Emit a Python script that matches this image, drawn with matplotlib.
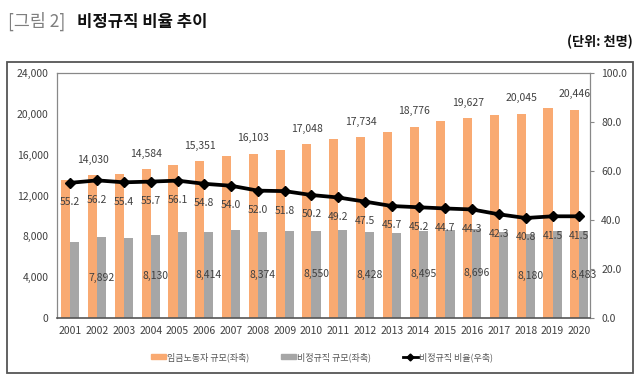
import numpy as np
import matplotlib.pyplot as plt
from matplotlib.lines import Line2D
from matplotlib.patches import Patch, Rectangle

plt.rcParams['font.family'] = ['Noto Sans CJK KR', 'DejaVu Sans']

years = [str(y) for y in range(2001, 2021)]
wage_workers = [13540, 14030, 14149, 14584, 14968, 15351, 15882, 16103, 16479, 17048,
                17510, 17734, 18240, 18776, 19312, 19627, 19883, 20045, 20559, 20446]
nonregular = [7474, 7892, 7838, 8130, 8397, 8414, 8576, 8374, 8536, 8550,
              8615, 8428, 8336, 8495, 8632, 8696, 8411, 8180, 8532, 8483]
ratio = [55.2, 56.2, 55.4, 55.7, 56.1, 54.8, 54.0, 52.0, 51.8, 50.2,
         49.2, 47.5, 45.7, 45.2, 44.7, 44.3, 42.3, 40.8, 41.5, 41.5]

orange = '#F9AA72'
gray = '#A6A6A6'
txt = '#404040'

fig = plt.figure(figsize=(6.4, 3.83), dpi=100)
ax = fig.add_axes([0.089, 0.1705, 0.833, 0.638])
x = np.arange(len(years))
w = 0.34

ax.bar(x - w / 2, wage_workers, w, color=orange)
ax.bar(x + w / 2, nonregular, w, color=gray)

# labels on every other year (even years)
for i in range(1, len(years), 2):
    ax.annotate(f'{wage_workers[i]:,}', (x[i] - w / 2, wage_workers[i]), xytext=(0, 11),
                textcoords='offset points', ha='center', va='center', fontsize=7.5, color=txt)
    ax.text(x[i] + w / 2, nonregular[i] / 2, f'{nonregular[i]:,}', ha='center', va='center',
            fontsize=7.5, color=txt)

ax.set_ylim(0, 24000)
ax.set_yticks(range(0, 24001, 4000))
ax.set_yticklabels([f'{v:,}' for v in range(0, 24001, 4000)])
ax.set_xlim(-0.5, 19.4)
ax.set_xticks(x)
ax.set_xticklabels(years)
ax.tick_params(axis='both', length=0, labelsize=7.5, colors=txt, pad=6)
for s in ['top', 'left', 'right']:
    ax.spines[s].set_color('#888888')
    ax.spines[s].set_linewidth(0.9)
ax.spines['bottom'].set_color('#555555')
ax.spines['bottom'].set_linewidth(1.2)

ax2 = ax.twinx()
ax2.plot(x, ratio, color='black', lw=2.7, marker='D', ms=5)
for i in range(len(years)):
    ax2.annotate(f'{ratio[i]:.1f}', (x[i], ratio[i]), xytext=(0, -14),
                 textcoords='offset points', ha='center', va='center', fontsize=7.5, color=txt)
ax2.set_ylim(0, 100)
ax2.set_yticks(range(0, 101, 20))
ax2.set_yticklabels([f'{v:.1f}' for v in range(0, 101, 20)])
ax2.tick_params(axis='y', length=3, labelsize=7.5, colors=txt, pad=5)
ax2.tick_params(axis='y', color='#888888')
for s in ax2.spines.values():
    s.set_visible(False)

# title and unit
fig.text(0.012, 0.943, '[그림 2]', fontsize=12.5, color='#7F7F7F', va='center')
fig.text(0.12, 0.943, '비정규직 비율 추이', fontsize=12, fontweight='bold', color='#111111', va='center')
fig.text(0.988, 0.89, '(단위: 천명)', fontsize=9.5, fontweight='bold', color='#111111',
         va='center', ha='right')

# outer frame
fig.patches.append(Rectangle((0.011, 0.026), 0.978, 0.812, transform=fig.transFigure,
                             fill=False, edgecolor='#555555', lw=1.3))

handles = [Patch(color=orange), Patch(color=gray),
           Line2D([], [], color='black', lw=2, marker='D', ms=3.5)]
labels = ['임금노동자 규모(좌축)', '비정규직 규모(좌축)', '비정규직 비율(우축)']
fig.legend(handles, labels, loc='center', bbox_to_anchor=(0.503, 0.068), ncol=3, frameon=False,
           fontsize=6.5, labelcolor='#555555', handlelength=1.7, handleheight=0.5,
           handletextpad=0.1, columnspacing=3.5)

fig.savefig('out.png', dpi=100)
